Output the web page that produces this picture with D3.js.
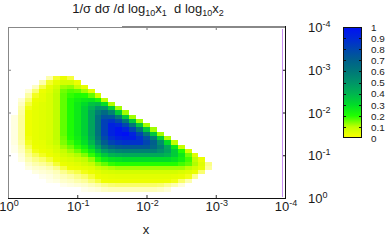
<!DOCTYPE html>
<html>
<head>
<meta charset="utf-8">
<script src="https://cdnjs.cloudflare.com/ajax/libs/d3/7.8.5/d3.min.js"></script>
<style>
  body { margin: 0; background: #fff; }
  svg { display: block; font-family: "Liberation Sans", Arial, sans-serif; }
  text { fill: #1a1a1a; }
</style>
</head>
<body>
<div id="vis"></div>
<script>
// Map bins are tenths of a decade: bin k is centred on log10(x) = -k/10
const binWidth = 0.1;

// One entry per map row (x2 bin), top row first
const x2Bins = [28, 27, 26, 25, 24, 23, 22, 21, 20, 19, 18, 17, 16, 15, 14,
                13, 12, 11, 10, 9, 8, 7, 6, 5, 4, 3, 2];
// x1 bin of the first cell in each row
const x1FirstBin = [6, 5, 4, 3, 3, 2, 2, 2, 2, 1, 1, 1, 1, 1, 1,
                    1, 1, 1, 2, 2, 3, 3, 4, 5, 6, 8, 11];
// Cell values, in % of the maximum
const cellValues = [
  [0.8, 2.1, 3, 1.9],
  [0.8, 2.1, 4, 7, 7, 3],
  [0.6, 1.8, 3.6, 7, 12, 13, 9, 4],
  [0.4, 1.4, 2.8, 5, 9, 15, 17, 16, 12, 5],
  [0.9, 2.2, 3.8, 6, 10, 16, 19, 21, 20, 16, 8],
  [0.4, 1.4, 3, 4, 6, 10, 16, 21, 24, 26, 27, 22, 10],
  [0.6, 1.9, 3.6, 5, 6, 10, 16, 21, 26, 30, 36, 38, 29, 11],
  [0.8, 2.3, 4, 5, 6, 10, 16, 21, 26, 33, 41, 50, 49, 33, 12],
  [0.9, 2.5, 4, 5, 6, 10, 16, 21, 26, 33, 45, 58, 66, 56, 34, 12],
  [0.3, 1, 2.5, 4, 5, 6, 10, 16, 21, 26, 33, 45, 63, 75, 74, 59, 35, 12],
  [0.3, 1, 2.5, 4, 5, 6, 10, 16, 21, 26, 33, 45, 63, 82, 86, 78, 60, 35, 12],
  [0.3, 1, 2.5, 4, 5, 6, 10, 16, 21, 26, 33, 45, 63, 82, 93, 90, 80, 60, 35, 12],
  [0.3, 1, 2.5, 4, 5, 6, 10, 16, 21, 26, 33, 45, 63, 82, 93, 98, 92, 80, 60, 35, 12],
  [0.3, 1, 2.5, 4, 5, 6, 10, 16, 21, 26, 33, 45, 63, 82, 93, 98, 100, 92, 80, 60, 35, 12],
  [0.3, 1, 2.4, 4, 5, 6, 10, 15, 20, 25, 31, 43, 60, 78, 88, 93, 95, 95, 87, 76, 57, 33, 11],
  [0.3, 0.9, 2.2, 3.5, 4, 6, 9, 14, 18, 23, 29, 39, 55, 71, 81, 85, 87, 87, 87, 80, 70, 52, 30, 10],
  [0.2, 0.7, 1.8, 2.9, 3.7, 5, 7, 12, 15, 19, 24, 33, 46, 60, 68, 72, 73, 73, 73, 73, 67, 58, 44, 26, 9],
  [0.2, 0.6, 1.4, 2.3, 2.9, 3.7, 6, 9, 12, 15, 19, 26, 36, 47, 53, 56, 57, 57, 57, 57, 57, 52, 46, 34, 20, 7],
  [0.4, 1.1, 1.7, 2.2, 2.8, 4.3, 7, 9, 11, 14, 19, 27, 35, 40, 42, 43, 43, 43, 43, 43, 43, 40, 34, 26, 15, 5],
  [0.3, 0.8, 1.2, 1.5, 2, 3, 5, 6, 8, 10, 13, 19, 25, 28, 29, 30, 30, 30, 30, 30, 30, 30, 28, 24, 18, 10, 3.2],
  [0.5, 0.8, 1, 1.3, 2, 3.2, 4, 5, 7, 9, 13, 16, 19, 20, 20, 20, 20, 20, 20, 20, 20, 20, 18, 16, 11, 5, 1.2],
  [0.3, 0.5, 0.6, 0.8, 1.2, 1.9, 2.5, 3.1, 4, 5, 8, 10, 11, 12, 12, 12, 12, 12, 12, 12, 12, 12, 12, 10, 7, 3.6, 1],
  [0.3, 0.4, 0.5, 0.7, 1.1, 1.5, 1.8, 2.3, 3.2, 4.4, 6, 6.5, 7, 7, 7, 7, 7, 7, 7, 7, 7, 6, 5, 3.2, 1.4],
  [0.2, 0.3, 0.5, 0.7, 0.9, 1.2, 1.5, 2, 2.8, 3.7, 4.2, 4.4, 4.5, 4.5, 4.5, 4.5, 4.5, 4.5, 4.5, 4, 3.4, 2.3, 1.1],
  [0.2, 0.3, 0.5, 0.6, 0.8, 1, 1.4, 1.9, 2.5, 2.8, 2.9, 3, 3, 3, 3, 3, 3, 2.7, 2.3, 1.5, 0.8],
  [0.2, 0.3, 0.4, 0.5, 0.7, 0.9, 1.2, 1.4, 1.5, 1.5, 1.5, 1.5, 1.5, 1.5, 1.4, 1.1, 0.8, 0.4],
  [0.2, 0.3, 0.4, 0.6, 0.7, 0.7, 0.7, 0.7, 0.7, 0.7, 0.7, 0.6, 0.4]
];

// Axis decades and colour bar
const xTickExp = [0, -1, -2, -3, -4];
const yTickExp = [0, -1, -2, -3, -4];
const cbTicks = [0, 0.1, 0.2, 0.3, 0.4, 0.5, 0.6, 0.7, 0.8, 0.9, 1];
const cbLabels = ['0', '0.1', '0.2', '0.3', '0.4', '0.5', '0.6', '0.7', '0.8', '0.9', '1'];
const paletteStops = [0, 0.1, 0.2, 0.3, 0.4, 0.5, 0.6, 0.7, 0.8, 0.9, 1];
const paletteColors = ['#ffff00', '#c0ff00', '#20ff00', '#00dc28', '#00b450', '#009468',
                       '#007878', '#00608c', '#0046b0', '#0028d8', '#0010f4'];

// Sizes
const width = 392;
const height = 247;
const plot = { left: 8, right: 285, top: 27, bottom: 198 };
const cb = { left: 343, right: 362, top: 27, bottom: 138 };

const svg = d3.select('#vis').append('svg')
    .attr('width', width)
    .attr('height', height);

/********** scales **********/
const xScale = d3.scaleLog().domain([1, 1e-4]).range([plot.left, plot.right]);
const yScale = d3.scaleLog().domain([1, 1e-4]).range([plot.bottom, plot.top]);
const color = d3.scaleLinear().domain(paletteStops).range(paletteColors)
    .interpolate(d3.interpolateRgb).clamp(true);
const cbScale = d3.scaleLinear().domain([0, 1]).range([cb.bottom, cb.top]);

/********** map cells **********/
let cells = [];
cellValues.forEach((row, r) => {
    row.forEach((v, k) => {
        cells.push({ i: x1FirstBin[r] + k, j: x2Bins[r], v: v / 100 });
    });
});

const edge = (b, side) => Math.pow(10, -(b + side) * binWidth);

svg.append('g')
    .selectAll('rect')
    .data(cells)
    .join('rect')
    .attr('x', d => Math.round(xScale(edge(d.i, -0.5))))
    .attr('width', d => Math.round(xScale(edge(d.i, 0.5))) - Math.round(xScale(edge(d.i, -0.5))))
    .attr('y', d => Math.round(yScale(edge(d.j, 0.5))))
    .attr('height', d => Math.round(yScale(edge(d.j, -0.5))) - Math.round(yScale(edge(d.j, 0.5))))
    .attr('fill', d => color(d.v))
    // the faint fringe fades out towards white
    .attr('fill-opacity', d => Math.min(1, d.v / 0.025))
    .attr('shape-rendering', 'crispEdges');

/********** frame and ticks **********/
const inner = [1e-1, 1e-2, 1e-3];

const styleAxis = (g, stroke) => {
    g.select('.domain').remove();
    g.selectAll('line').attr('stroke', stroke);
};

svg.append('g')
    .attr('transform', `translate(0,${plot.bottom})`)
    .call(d3.axisBottom(xScale).tickValues(inner).tickSize(-3).tickFormat(''))
    .call(g => styleAxis(g, '#333'));

svg.append('g')
    .attr('transform', `translate(0,${plot.top})`)
    .call(d3.axisTop(xScale).tickValues(inner).tickSize(-3).tickFormat(''))
    .call(g => styleAxis(g, '#777'));

svg.append('g')
    .attr('transform', `translate(${plot.left},0)`)
    .call(d3.axisLeft(yScale).tickValues(inner).tickSize(-3).tickFormat(''))
    .call(g => styleAxis(g, '#888'));

svg.append('g')
    .attr('transform', `translate(${plot.right},0)`)
    .call(d3.axisRight(yScale).tickValues(inner).tickSize(-3).tickFormat(''))
    .call(g => styleAxis(g, '#111'));

// violet line just inside the right border
svg.append('line')
    .attr('x1', plot.right - 2.5).attr('x2', plot.right - 2.5)
    .attr('y1', plot.top + 2).attr('y2', plot.bottom - 1)
    .attr('stroke', '#c68cf2').attr('stroke-width', 1);

const frame = svg.append('g').attr('fill', 'none');
frame.append('line')
    .attr('x1', plot.left + 0.5).attr('x2', plot.left + 0.5)
    .attr('y1', plot.top).attr('y2', plot.bottom)
    .attr('stroke', '#888');
frame.append('line')
    .attr('x1', plot.left).attr('x2', plot.right)
    .attr('y1', plot.top + 0.5).attr('y2', plot.top + 0.5)
    .attr('stroke', '#888');
frame.append('line')
    .attr('x1', 122).attr('x2', plot.right)
    .attr('y1', plot.top - 0.5).attr('y2', plot.top - 0.5)
    .attr('stroke', '#888');
frame.append('line')
    .attr('x1', plot.right + 0.5).attr('x2', plot.right + 0.5)
    .attr('y1', plot.top - 1).attr('y2', plot.bottom)
    .attr('stroke', '#111');
frame.append('line')
    .attr('x1', plot.left).attr('x2', plot.right + 1)
    .attr('y1', plot.bottom + 0.5).attr('y2', plot.bottom + 0.5)
    .attr('stroke', '#111');

/********** tick labels **********/
const powerLabel = (sel, e) => {
    sel.append('tspan').text('10');
    sel.append('tspan').attr('dy', -5).attr('font-size', 9).text(e);
};

svg.append('g')
    .selectAll('text')
    .data(xTickExp)
    .join('text')
    .attr('x', e => xScale(Math.pow(10, e)) + 1)
    .attr('y', 211)
    .attr('text-anchor', 'middle')
    .attr('font-size', 13)
    .each(function(e) { powerLabel(d3.select(this), e); });

svg.append('g')
    .selectAll('text')
    .data(yTickExp)
    .join('text')
    .attr('x', 308)
    .attr('y', e => yScale(Math.pow(10, e)) + 5)
    .attr('font-size', 13)
    .each(function(e) { powerLabel(d3.select(this), e); });

// axis label
svg.append('text')
    .attr('x', 146)
    .attr('y', 234)
    .attr('text-anchor', 'middle')
    .attr('font-size', 13)
    .text('x');

// title with subscripts
const title = svg.append('text')
    .attr('x', 148)
    .attr('y', 13)
    .attr('text-anchor', 'middle')
    .attr('font-size', 13);
title.append('tspan').text('1/\u03c3 d\u03c3 /d log');
title.append('tspan').attr('dy', 3).attr('font-size', 9).text('10');
title.append('tspan').attr('dy', -3).text('x');
title.append('tspan').attr('dy', 3).attr('font-size', 9).text('1');
title.append('tspan').attr('dy', -3).text('\u00a0 d log');
title.append('tspan').attr('dy', 3).attr('font-size', 9).text('10');
title.append('tspan').attr('dy', -3).text('x');
title.append('tspan').attr('dy', 3).attr('font-size', 9).text('2');

/********** colour bar **********/
const grad = svg.append('defs').append('linearGradient')
    .attr('id', 'cbGrad')
    .attr('x1', 0).attr('y1', 1).attr('x2', 0).attr('y2', 0);
grad.selectAll('stop')
    .data(paletteStops)
    .join('stop')
    .attr('offset', d => d)
    .attr('stop-color', d => color(d));

svg.append('rect')
    .attr('x', cb.left)
    .attr('y', cbScale(1))
    .attr('width', cb.right - cb.left)
    .attr('height', cbScale(0) - cbScale(1))
    .attr('fill', 'url(#cbGrad)');

const cbInner = cbTicks.slice(1, -1);
svg.append('g')
    .selectAll('line')
    .data(cbInner)
    .join('line')
    .attr('x1', cb.left).attr('x2', cb.left + 3)
    .attr('y1', d => Math.round(cbScale(d)) + 0.5).attr('y2', d => Math.round(cbScale(d)) + 0.5)
    .attr('stroke', '#111');
svg.append('g')
    .selectAll('line')
    .data(cbInner)
    .join('line')
    .attr('x1', cb.right - 3).attr('x2', cb.right)
    .attr('y1', d => Math.round(cbScale(d)) + 0.5).attr('y2', d => Math.round(cbScale(d)) + 0.5)
    .attr('stroke', '#111');

svg.append('rect')
    .attr('x', cb.left + 0.5)
    .attr('y', cbScale(1) + 0.5)
    .attr('width', cb.right - cb.left - 1)
    .attr('height', cbScale(0) - cbScale(1) - 1)
    .attr('fill', 'none')
    .attr('stroke', '#111');

// labels are packed tightly, as in the reference
svg.append('g')
    .selectAll('text')
    .data(cbTicks)
    .join('text')
    .attr('x', 371)
    .attr('y', d => cbScale(d) + 3.8)
    .attr('font-size', 9.9)
    .text((d, k) => cbLabels[k]);
</script>
</body>
</html>
